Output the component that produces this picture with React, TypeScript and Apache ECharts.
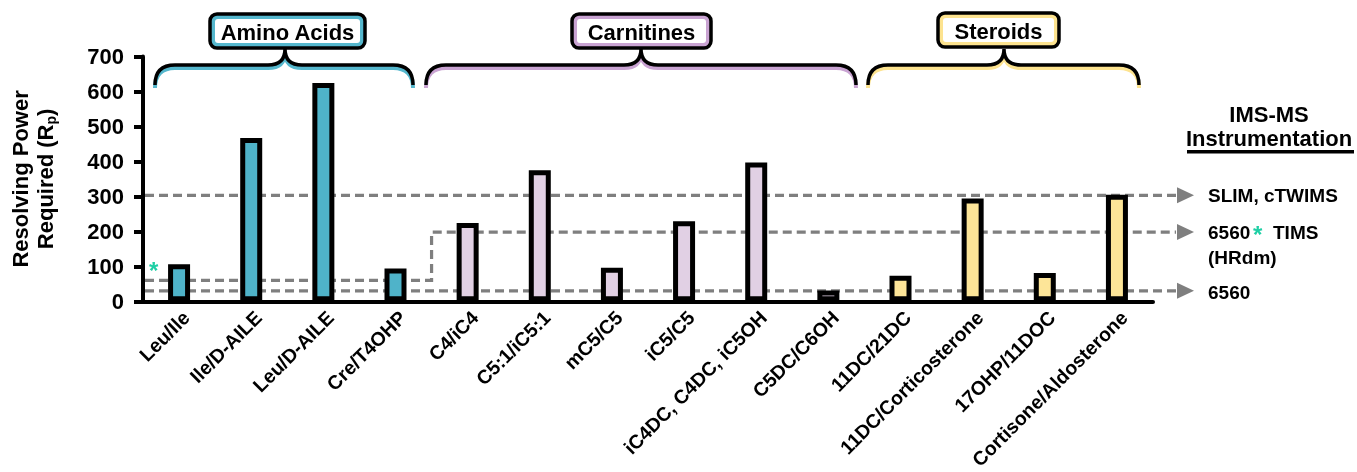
import React, { useEffect, useRef } from 'react';
import * as echarts from 'echarts';

const categories = [
  'Leu/Ile', 'Ile/D-AILE', 'Leu/D-AILE', 'Cre/T4OHP',
  'C4/iC4', 'C5:1/iC5:1', 'mC5/C5', 'iC5/C5', 'iC4DC, C4DC, iC5OH', 'C5DC/C6OH',
  '11DC/21DC', '11DC/Corticosterone', '17OHP/11DOC', 'Cortisone/Aldosterone',
];
const values = [106, 467, 624, 94, 224, 375, 96, 229, 397, 31, 73, 294, 81, 305];
const groupOf = [0, 0, 0, 0, 1, 1, 1, 1, 1, 1, 2, 2, 2, 2];
const groupNames = ['Amino Acids', 'Carnitines', 'Steroids'];
const groupFill = ['#4fb3c9', '#e1d0e4', '#fde598'];
const groupAccent = ['#55b7cd', '#c9a3d2', '#fde38f'];

const slimLevel = 303;
const hrdmLevelLow = 60;
const hrdmLevelHigh = 198;
const hrdmStepAfter = 3; // step between category 3 and 4
const lowLevel = 30;
const instrumentLabels = ['SLIM, cTWIMS', '6560', 'TIMS', '(HRdm)', '6560'];

const FONT = "'Liberation Sans', Arial, Helvetica, sans-serif";
const GRAY = '#7f7f7f';
const STAR = '#1fcfa5';

// layout constants for the group brackets
const braceX = [[155, 413], [426, 856], [868, 1139]];
const braceCx = [285, 641, 1004];
const boxRect = [[210, 14, 155, 34], [572, 14, 139, 34], [938, 13, 121, 34]];

function bracePath(x1: number, x2: number, cx: number, yEnd: number, yBar: number, yPeak: number) {
  const r = 20;
  return `M${x1} ${yEnd} C${x1} ${yBar + 7} ${x1 + 6} ${yBar} ${x1 + r} ${yBar} ` +
    `L${cx - 17} ${yBar} C${cx - 6} ${yBar} ${cx} ${yBar - 5} ${cx} ${yPeak} ` +
    `C${cx} ${yBar - 5} ${cx + 6} ${yBar} ${cx + 17} ${yBar} ` +
    `L${x2 - r} ${yBar} C${x2 - 6} ${yBar} ${x2} ${yBar + 7} ${x2} ${yEnd}`;
}

export default function App() {
  const ref = useRef<HTMLDivElement>(null);
  useEffect(() => {
    const el = ref.current!;
    const chart = echarts.init(el, null, { renderer: 'svg' });
    const gridTop = 56.5;
    const gridBottom = 472 - 301.3;
    const option: any = {
      animation: false,
      grid: [
        { left: 143, right: 1357 - 1153, top: gridTop, bottom: gridBottom },
        { left: 150, right: 1357 - 1160, top: gridTop, bottom: gridBottom },
      ],
      xAxis: [
        {
          type: 'category', gridIndex: 0,
          data: categories,
          axisLine: { lineStyle: { color: '#000', width: 4 } },
          axisTick: { show: false },
          axisLabel: { show: false },
        },
        {
          type: 'category', gridIndex: 1,
          data: categories,
          axisLine: { show: false },
          axisTick: { show: false },
          axisLabel: {
            rotate: 45, interval: 0, fontSize: 19.5, fontWeight: 'bold', color: '#000',
            fontFamily: FONT, margin: 21,
          },
        },
      ],
      yAxis: [
        {
          type: 'value', gridIndex: 0, min: 0, max: 700, interval: 100,
          splitLine: { show: false },
          axisLine: { show: true, lineStyle: { color: '#000', width: 4 } },
          axisTick: { show: true, length: 9, lineStyle: { color: '#000', width: 4 } },
          axisLabel: { fontSize: 22, fontWeight: 'bold', color: '#000', fontFamily: FONT, margin: 19 },
          name: 'Resolving Power\nRequired (R{s|p})',
          nameLocation: 'middle',
          nameGap: 85,
          nameTextStyle: {
            fontSize: 22, fontWeight: 'bold', color: '#000', fontFamily: FONT, lineHeight: 25,
            rich: { s: { fontSize: 14, fontWeight: 'bold', fontFamily: FONT, color: '#000', verticalAlign: 'bottom', lineHeight: 25 } },
          },
        },
        { type: 'value', gridIndex: 1, min: 0, max: 700, show: false },
      ],
      series: [{
        type: 'bar',
        xAxisIndex: 0, yAxisIndex: 0,
        barWidth: 22,
        data: values.map((v, i) => ({ value: v, itemStyle: { color: groupFill[groupOf[i]] } })),
        itemStyle: { borderColor: '#000', borderWidth: 5 },
      }],
    };
    chart.setOption(option);

    const px = (i: number) => chart.convertToPixel({ xAxisIndex: 0 }, i) as number;
    const py = (v: number) => chart.convertToPixel({ yAxisIndex: 0 }, v) as number;
    const xLeft = px(0) - (px(1) - px(0)) / 2 + 2;
    const xStep = (px(hrdmStepAfter) + px(hrdmStepAfter + 1)) / 2;
    const xEnd = 1176;
    const dash = { stroke: GRAY, lineWidth: 3.2, lineDash: [9, 5], fill: null };
    const arrow = (y: number) => ({
      type: 'polygon', z: 1, shape: { points: [[1177, y - 8], [1194, y], [1177, y + 8]] },
      style: { fill: GRAY },
    });
    const els: any[] = [];
    els.push({ type: 'polyline', z: 1, shape: { points: [[xLeft, py(slimLevel)], [xEnd, py(slimLevel)]] }, style: dash });
    els.push({
      type: 'polyline', z: 1,
      shape: { points: [[xLeft, py(hrdmLevelLow)], [xStep, py(hrdmLevelLow)], [xStep, py(hrdmLevelHigh)], [xEnd, py(hrdmLevelHigh)]] },
      style: dash,
    });
    els.push({ type: 'polyline', z: 1, shape: { points: [[xLeft, py(lowLevel)], [xEnd, py(lowLevel)]] }, style: dash });
    els.push(arrow(py(slimLevel)), arrow(py(hrdmLevelHigh)), arrow(py(lowLevel)));

    const tx = 1208;
    const txt = (text: string, x: number, y: number, size: number, extra: any = {}) => ({
      type: 'text', z: 5, x, y,
      style: { text, fontSize: size, fontWeight: 'bold', fontFamily: FONT, fill: '#000', textVerticalAlign: 'middle', ...extra },
    });
    els.push(txt(instrumentLabels[0], tx, py(slimLevel), 19));
    els.push(txt(instrumentLabels[1], tx, py(hrdmLevelHigh), 19));
    els.push(txt('*', 1253, py(hrdmLevelHigh) + 2, 24, { fill: STAR }));
    els.push(txt(instrumentLabels[2], 1273, py(hrdmLevelHigh), 19));
    els.push(txt(instrumentLabels[3], tx, py(hrdmLevelHigh) + 25, 19));
    els.push(txt(instrumentLabels[4], tx, py(lowLevel) + 2, 19));
    els.push(txt('*', px(0) - 30, py(values[0]) + 6, 24, { fill: STAR }));

    els.push(txt('IMS-MS', 1269, 114, 22, { textAlign: 'center' }));
    els.push(txt('Instrumentation', 1269, 138, 22, { textAlign: 'center' }));
    els.push({ type: 'rect', z: 5, shape: { x: 1187, y: 150, width: 167, height: 3.5 }, style: { fill: '#000' } });

    groupNames.forEach((name, g) => {
      const [x1, x2] = braceX[g];
      const cx = braceCx[g];
      const shapeName = 'brace' + g;
      echarts.graphic.registerShape(shapeName, echarts.graphic.extendPath(bracePath(x1, x2, cx, 85, 65, 49), {}) as any);
      els.push({ type: shapeName, z: 3, x: 0, y: 3, style: { stroke: groupAccent[g], lineWidth: 4, fill: null } });
      els.push({ type: shapeName, z: 4, x: 0, y: 0, style: { stroke: '#000', lineWidth: 3.5, fill: null } });
      const [bx, by, bw, bh] = boxRect[g];
      els.push({ type: 'rect', z: 5, shape: { x: bx, y: by, width: bw, height: bh, r: 7 }, style: { fill: groupAccent[g], stroke: '#000', lineWidth: 3.5 } });
      els.push({ type: 'rect', z: 6, shape: { x: bx + 5, y: by + 5, width: bw - 10, height: bh - 10, r: 3 }, style: { fill: '#fff' } });
      els.push({
        type: 'text', z: 7, x: bx + bw / 2, y: by + bh / 2 + 1,
        style: { text: name, fontSize: 22, fontWeight: 'bold', fontFamily: FONT, fill: '#000', textAlign: 'center', textVerticalAlign: 'middle' },
      });
    });

    chart.setOption({ graphic: { elements: els } });
    return () => chart.dispose();
  }, []);
  return <div ref={ref} style={{ position: 'fixed', left: 0, top: 0, width: 1357, height: 472 }} />;
}
